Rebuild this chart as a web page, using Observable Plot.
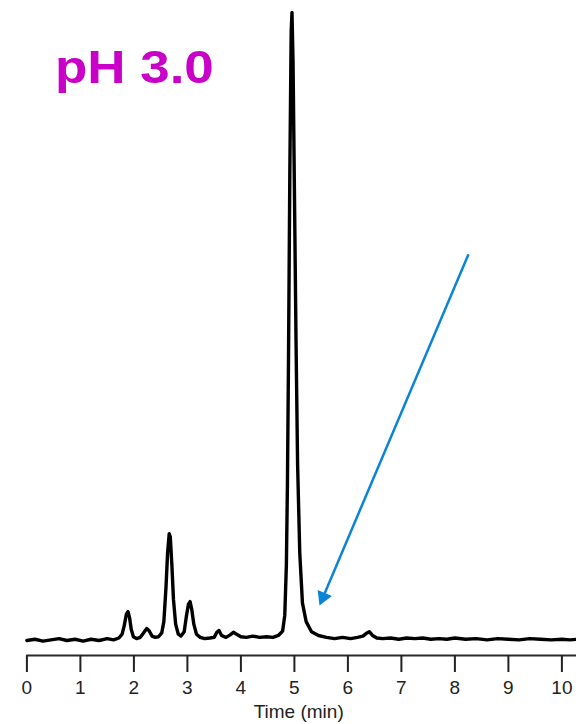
<!DOCTYPE html>
<html><head><meta charset="utf-8">
<script src="https://cdn.jsdelivr.net/npm/d3@7"></script>
<script src="https://cdn.jsdelivr.net/npm/@observablehq/plot@0.6"></script>
<style>
body{margin:0;background:#fff;}
#wrap{position:relative;width:576px;height:724px;overflow:hidden;}
#title{position:absolute;z-index:2;left:55px;top:44px;font:bold 46px "Liberation Sans",Arial,sans-serif;color:#C800C8;line-height:46px;transform:scaleX(1.15);transform-origin:0 0;white-space:nowrap;}
</style></head><body>
<div id="wrap"><div id="title">pH 3.0</div></div>
<script>
// Chromatogram trace (time in min, relative signal)
const time = [0.00,0.15,0.30,0.45,0.60,0.75,0.90,1.05,1.20,1.35,1.50,1.62,1.72,1.78,1.82,1.86,1.89,1.92,1.95,1.99,
  2.05,2.12,2.18,2.24,2.28,2.34,2.40,2.46,2.52,2.56,2.60,2.63,2.66,2.68,2.71,2.74,2.78,2.83,2.88,2.94,2.98,
  3.02,3.05,3.08,3.12,3.17,3.24,3.32,3.42,3.50,3.55,3.59,3.64,3.72,3.80,3.86,3.92,4.00,4.10,4.22,4.35,4.48,
  4.60,4.70,4.78,4.82,4.85,4.87,4.89,4.915,4.94,4.955,4.975,5.00,5.03,5.06,5.10,5.15,5.22,5.32,5.45,5.60,
  5.75,5.90,6.05,6.18,6.28,6.34,6.40,6.46,6.54,6.65,6.80,6.95,7.10,7.25,7.40,7.55,7.70,7.85,8.00,8.20,8.40,
  8.60,8.80,9.00,9.20,9.40,9.60,9.80,10.00,10.15,10.30];
const signal = [0.0,0.2,-0.1,0.1,0.3,0.0,0.2,-0.1,0.2,0.0,0.3,0.1,0.4,1.0,2.4,4.2,4.6,3.6,1.8,0.6,
  0.3,0.5,1.2,1.9,1.6,0.7,0.5,0.6,1.2,3.0,8.5,14.0,17.0,16.5,12.0,6.5,2.6,1.0,0.7,1.4,3.8,
  5.8,6.2,5.0,2.6,1.0,0.5,0.3,0.4,0.5,1.3,1.6,0.8,0.5,0.9,1.3,1.0,0.6,0.5,0.7,0.5,0.6,
  0.5,0.8,1.5,4,12,25,45,75,97,100,92,72,48,28,14,6,3,1.4,0.8,0.5,
  0.3,0.5,0.3,0.5,0.7,1.1,1.4,0.8,0.4,0.3,0.4,0.2,0.4,0.3,0.4,0.2,0.3,0.2,0.4,0.2,0.3,
  0.1,0.3,0.2,0.1,0.3,0.2,0.1,0.2,0.1,0.2];
const tickValues = [0,1,2,3,4,5,6,7,8,9,10];
const xLabel = "Time (min)";
// annotation arrow: start point and arrow-head point (time, signal)
const arrowStart = [8.254, 61.5];
const arrowHead = [5.535, 6.9];

const trace = time.map((t, i) => ({t, s: signal[i]}));
const arrow = [{x1: arrowStart[0], y1: arrowStart[1], x2: arrowHead[0], y2: arrowHead[1]}];
const blue = "#0A84D6";

const chart = Plot.plot({
  width: 576, height: 724,
  marginLeft: 26.4, marginRight: 0, marginTop: 12, marginBottom: 69,
  style: {fontFamily: "'Liberation Sans', Arial, sans-serif", background: "#fff", overflow: "hidden"},
  x: {domain: [0, 10.273]},
  y: {domain: [-2.389, 100], axis: null},
  marks: [
    Plot.ruleY([-2.389], {stroke: "#2a2a2a", strokeWidth: 2}),
    Plot.axisX(tickValues, {tickSize: 17, tickPadding: 8, fontSize: 19, strokeWidth: 2, stroke: "#222", fill: "#222", label: null}),
    Plot.text([xLabel], {frameAnchor: "bottom", dx: -3, dy: 62, fontSize: 19, fill: "#222"}),
    Plot.line(trace, {x: "t", y: "s", stroke: "#000", strokeWidth: 3.4, strokeLinejoin: "round", curve: "linear"}),
    Plot.link(arrow, {x1: "x1", y1: "y1", x2: "x2", y2: "y2", stroke: blue, strokeWidth: 2.5}),
    Plot.dot(arrow, {x: "x2", y: "y2", symbol: "triangle2", r: 7.4, fill: blue, stroke: "none", rotate: -157})
  ]
});
document.getElementById("wrap").appendChild(chart);
</script>
</body></html>
